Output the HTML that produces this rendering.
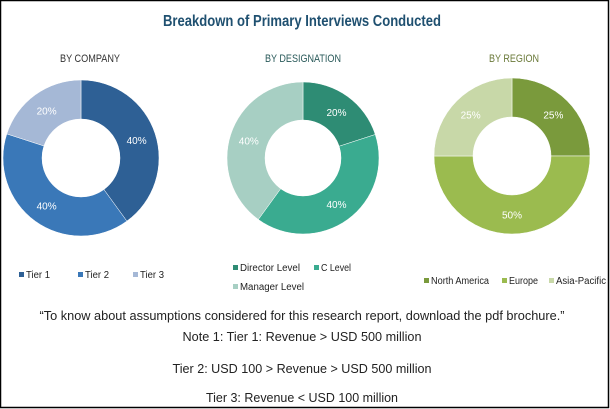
<!DOCTYPE html>
<html><head><meta charset="utf-8"><style>
html,body{margin:0;padding:0;background:#fff;}
svg{display:block;font-family:"Liberation Sans",sans-serif;}
</style></head><body>
<svg id="chart" width="610" height="409" viewBox="0 0 610 409">
<rect x="0.5" y="0.5" width="608" height="407" fill="#fff" stroke="#000" stroke-width="1.5"/>
<text x="302" y="26" text-anchor="middle" font-size="16" font-weight="bold" fill="#1f5070" textLength="278" lengthAdjust="spacingAndGlyphs">Breakdown of Primary Interviews Conducted</text>
<text x="90" y="62" text-anchor="middle" font-size="11" fill="#333" textLength="60" lengthAdjust="spacingAndGlyphs">BY COMPANY</text>
<text x="303" y="62" text-anchor="middle" font-size="11" fill="#2a5a5a" textLength="76" lengthAdjust="spacingAndGlyphs">BY DESIGNATION</text>
<text x="514" y="62" text-anchor="middle" font-size="11" fill="#6b7a3a" textLength="50" lengthAdjust="spacingAndGlyphs">BY REGION</text>
<g id="donuts"></g>
<text x="302" y="320" text-anchor="middle" font-size="12.5" fill="#222" textLength="525" lengthAdjust="spacingAndGlyphs">“To know about assumptions considered for this research report, download the pdf brochure.”</text>
<text x="302" y="341" text-anchor="middle" font-size="12.5" fill="#222" textLength="239" lengthAdjust="spacingAndGlyphs">Note 1: Tier 1: Revenue &gt; USD 500 million</text>
<text x="302" y="373" text-anchor="middle" font-size="12.5" fill="#222" textLength="259" lengthAdjust="spacingAndGlyphs">Tier 2: USD 100 &gt; Revenue &gt; USD 500 million</text>
<text x="302" y="402" text-anchor="middle" font-size="12.5" fill="#222" textLength="192" lengthAdjust="spacingAndGlyphs">Tier 3: Revenue &lt; USD 100 million</text>
</svg>
<script>
const companyCats = ["Tier 1","Tier 2","Tier 3"];
const companyVals = [40,40,20];
const designationCats = ["Director Level","C Level","Manager Level"];
const designationVals = [20,40,40];
const regionCats = ["North America","Europe","Asia-Pacific"];
const regionVals = [25,50,25];

const NS="http://www.w3.org/2000/svg";
const g=document.getElementById('donuts');
function mk(tag,attrs){const e=document.createElementNS(NS,tag);for(const k in attrs)e.setAttribute(k,attrs[k]);return e;}
function pt(cx,cy,r,a){return [cx+r*Math.sin(a),cy-r*Math.cos(a)];}
function donut(name,cats,vals,colors,cx,cy,R,r,legend){
  const total=vals.reduce((a,b)=>a+b,0);
  let start=0;
  vals.forEach((v,i)=>{
    const end=start+v/total*2*Math.PI;
    const large=(end-start)>Math.PI?1:0;
    const [x1,y1]=pt(cx,cy,R,start),[x2,y2]=pt(cx,cy,R,end),[x3,y3]=pt(cx,cy,r,end),[x4,y4]=pt(cx,cy,r,start);
    const p=mk('path',{d:`M${x1},${y1}A${R},${R} 0 ${large} 1 ${x2},${y2}L${x3},${y3}A${r},${r} 0 ${large} 0 ${x4},${y4}Z`,fill:colors[i],stroke:'#fff','stroke-width':0.5});
    
    
    g.appendChild(p);
    const mid=(start+end)/2;const [lx,ly]=pt(cx,cy,(R+r)/2,mid);
    const t=mk('text',{x:lx,y:ly+4,'text-anchor':'middle','font-size':10,fill:'#fff'});
    t.textContent=v+'%';
    
    
    g.appendChild(t);
    start=end;
  });
  legend.forEach((l,i)=>{
    const s=mk('rect',{x:l[0],y:l[1]-6,width:5,height:5,fill:colors[i]});
    
    
    g.appendChild(s);
    const t=mk('text',{x:l[0]+7,y:l[1],'font-size':10,fill:'#222',textLength:l[2],lengthAdjust:'spacingAndGlyphs'});
    t.textContent=cats[i];
    
    
    g.appendChild(t);
  });
}
donut('company',companyCats,companyVals,['#2e6095','#3a78b8','#a5b8d6'],81,158,78,39,[[19,278,24],[78,278,24],[133,278,24]]);
donut('designation',designationCats,designationVals,['#2e8c74','#3aab90','#a7cfc3'],303,158,76,38,[[233,271,60],[314,271,30],[233,290,64]]);
donut('region',regionCats,regionVals,['#7a9a3c','#9bbb4f','#c8d8a8'],512,156,78,39,[[424,284,58],[502,284,29],[549,284,50]]);
</script>
</body></html>
